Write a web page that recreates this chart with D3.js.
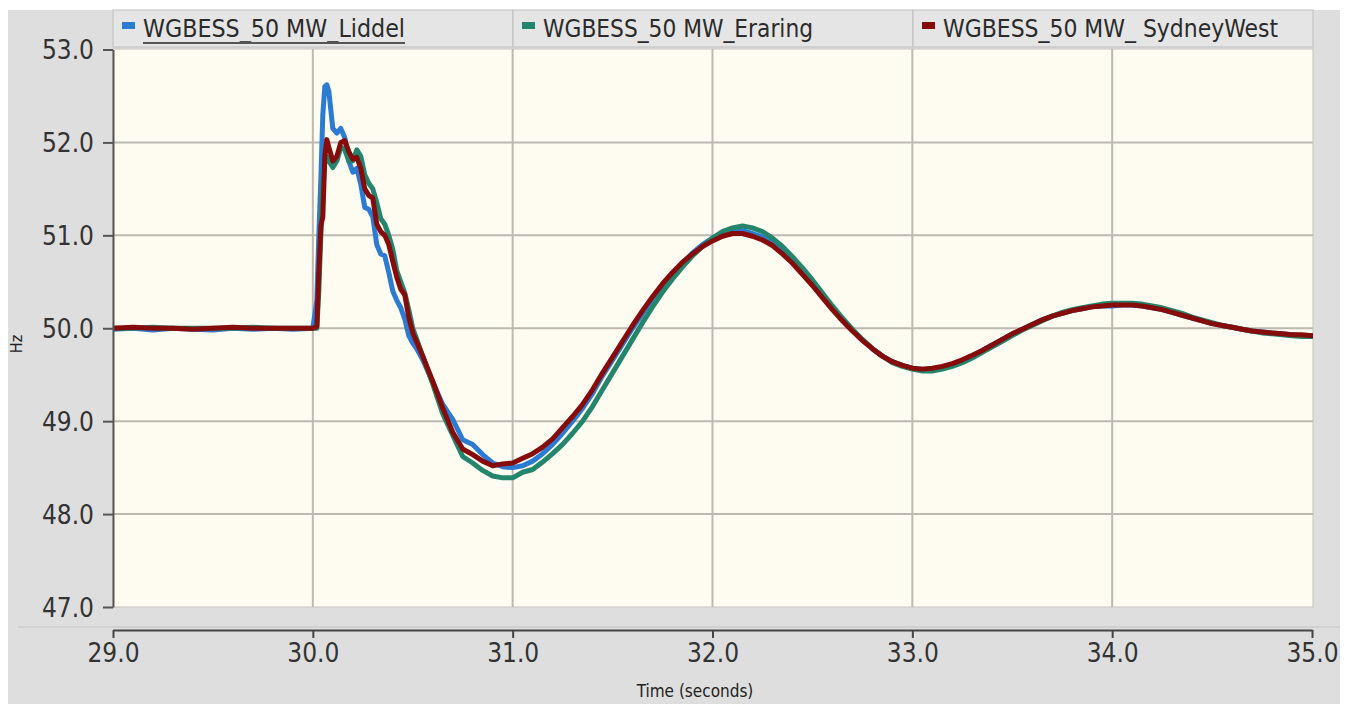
<!DOCTYPE html>
<html>
<head>
<meta charset="utf-8">
<script src="https://cdn.jsdelivr.net/npm/d3@7"></script>
<style>
  html, body { margin: 0; padding: 0; background: #ffffff; }
  svg { display: block; }
</style>
</head>
<body>
<svg id="chart" width="1351" height="704"></svg>
<script>
// Sample times (seconds)
const timePre = [29.0, 29.1, 29.2, 29.3, 29.4, 29.5, 29.6, 29.7, 29.8, 29.9];
const timeSpike = [30.00, 30.02, 30.03, 30.04, 30.05, 30.06, 30.07, 30.08, 30.10, 30.12,
  30.14, 30.16, 30.18, 30.20, 30.22, 30.24, 30.26, 30.28, 30.30, 30.32,
  30.34, 30.36, 30.38, 30.40, 30.42, 30.44, 30.46, 30.48, 30.50, 30.52,
  30.55, 30.60, 30.65, 30.70, 30.75, 30.80, 30.85, 30.90, 30.95];
const timePost = [31.00, 31.05, 31.10, 31.15, 31.20, 31.25, 31.30, 31.35, 31.40, 31.45,
  31.50, 31.55, 31.60, 31.65, 31.70, 31.75, 31.80, 31.85, 31.90, 31.95,
  32.00, 32.05, 32.10, 32.15, 32.20, 32.25, 32.30, 32.35, 32.40, 32.45,
  32.50, 32.55, 32.60, 32.65, 32.70, 32.75, 32.80, 32.85, 32.90, 32.95,
  33.00, 33.05, 33.10, 33.15, 33.20, 33.25, 33.30, 33.35, 33.40, 33.45,
  33.50, 33.55, 33.60, 33.65, 33.70, 33.75, 33.80, 33.85, 33.90, 33.95,
  34.00, 34.05, 34.10, 34.15, 34.20, 34.25, 34.30, 34.35, 34.40, 34.45,
  34.50, 34.55, 34.60, 34.65, 34.70, 34.75, 34.80, 34.85, 34.90, 34.95,
  35.00];
const timeSec = timePre.concat(timeSpike, timePost);

// Frequency (Hz) for each case
const liddelHz = [
  49.99, 50.00, 49.98, 50.00, 49.99, 49.98, 50.00, 49.99, 50.00, 49.99,
  50.00, 50.30, 51.00, 51.60, 52.30, 52.60, 52.62, 52.55, 52.15, 52.10,
  52.15, 52.05, 51.80, 51.68, 51.72, 51.55, 51.30, 51.28, 51.20, 50.90,
  50.80, 50.78, 50.60, 50.40, 50.30, 50.22, 50.10, 49.92, 49.84, 49.78,
  49.66, 49.42, 49.18, 49.02, 48.80, 48.75, 48.64, 48.55, 48.51,
  48.50, 48.52, 48.57, 48.65, 48.75, 48.87, 49.00, 49.14, 49.30, 49.49,
  49.66, 49.83, 50.00, 50.16, 50.32, 50.46, 50.59, 50.70, 50.81, 50.90,
  50.97, 51.02, 51.05, 51.05, 51.02, 50.98, 50.92, 50.83, 50.73, 50.61,
  50.48, 50.35, 50.22, 50.09, 49.98, 49.87, 49.78, 49.70, 49.64, 49.60,
  49.57, 49.56, 49.56, 49.58, 49.61, 49.65, 49.70, 49.76, 49.82, 49.88,
  49.94, 49.99, 50.04, 50.09, 50.13, 50.16, 50.19, 50.21, 50.23, 50.24,
  50.24, 50.25, 50.25, 50.24, 50.22, 50.20, 50.17, 50.14, 50.11, 50.08,
  50.05, 50.03, 50.01, 49.99, 49.97, 49.96, 49.95, 49.94, 49.93, 49.92,
  49.92];

const eraringHz = [
  50.00, 50.00, 50.01, 50.00, 50.00, 50.00, 50.00, 50.01, 50.00, 50.00,
  50.00, 50.00, 50.40, 51.00, 51.50, 51.80, 51.85, 51.80, 51.73, 51.80,
  51.95, 51.92, 51.80, 51.80, 51.92, 51.85, 51.65, 51.56, 51.50, 51.35,
  51.18, 51.12, 51.00, 50.85, 50.62, 50.50, 50.38, 50.20, 50.00, 49.88,
  49.70, 49.40, 49.08, 48.85, 48.62, 48.55, 48.47, 48.41, 48.39,
  48.39, 48.45, 48.48, 48.56, 48.65, 48.75, 48.87, 49.00, 49.16, 49.34,
  49.52, 49.70, 49.88, 50.06, 50.23, 50.39, 50.53, 50.66, 50.78, 50.88,
  50.97, 51.04, 51.08, 51.10, 51.08, 51.04, 50.97, 50.88, 50.77, 50.65,
  50.52, 50.38, 50.24, 50.11, 49.99, 49.88, 49.78, 49.70, 49.63, 49.59,
  49.56, 49.54, 49.54, 49.56, 49.59, 49.63, 49.68, 49.74, 49.80, 49.86,
  49.92, 49.98, 50.03, 50.08, 50.13, 50.17, 50.20, 50.22, 50.24, 50.26,
  50.27, 50.27, 50.27, 50.26, 50.24, 50.22, 50.19, 50.16, 50.12, 50.09,
  50.06, 50.03, 50.01, 49.99, 49.97, 49.95, 49.94, 49.93, 49.92, 49.91,
  49.91];

const sydneyWestHz = [
  50.00, 50.01, 50.00, 50.00, 49.99, 50.00, 50.01, 50.00, 50.00, 50.00,
  50.00, 50.02, 50.60, 51.10, 51.20, 51.85, 52.03, 51.95, 51.80, 51.85,
  52.00, 52.02, 51.90, 51.82, 51.84, 51.72, 51.50, 51.43, 51.40, 51.12,
  51.04, 51.00, 50.90, 50.72, 50.55, 50.42, 50.36, 50.12, 49.95, 49.85,
  49.70, 49.43, 49.14, 48.88, 48.70, 48.64, 48.57, 48.52, 48.54,
  48.55, 48.60, 48.65, 48.72, 48.81, 48.93, 49.05, 49.18, 49.34, 49.52,
  49.69, 49.86, 50.03, 50.19, 50.34, 50.48, 50.60, 50.71, 50.80, 50.88,
  50.94, 50.99, 51.02, 51.02, 50.99, 50.95, 50.89, 50.80, 50.70, 50.58,
  50.46, 50.33, 50.20, 50.08, 49.97, 49.87, 49.78, 49.70, 49.64, 49.60,
  49.57, 49.56, 49.57, 49.59, 49.62, 49.66, 49.71, 49.76, 49.82, 49.88,
  49.94, 49.99, 50.04, 50.09, 50.13, 50.16, 50.19, 50.21, 50.23, 50.24,
  50.25, 50.25, 50.25, 50.24, 50.22, 50.20, 50.17, 50.14, 50.11, 50.08,
  50.05, 50.03, 50.01, 49.99, 49.97, 49.96, 49.95, 49.94, 49.93, 49.93,
  49.92];

const seriesNames = ["WGBESS_50 MW_Liddel", "WGBESS_50 MW_Eraring", "WGBESS_50 MW_ SydneyWest"];
const seriesColors = ["#2b7bd3", "#23866c", "#860b0b"];
const xTickValues = [29, 30, 31, 32, 33, 34, 35];
const yTickValues = [47, 48, 49, 50, 51, 52, 53];
const xAxisTitle = "Time (seconds)";
const yAxisTitle = "Hz";

const seriesValues = [liddelHz, eraringHz, sydneyWestHz];

// Layout
const plot = { left: 113, right: 1313, top: 49, bottom: 607 };
const xAxisY = 630;
const labelFont = "'DejaVu Sans Condensed', 'DejaVu Sans', sans-serif";

const svg = d3.select("#chart");

const x = d3.scaleLinear().domain([29, 35]).range([plot.left, plot.right - 1]);
const y = d3.scaleLinear().domain([47, 53]).range([plot.bottom, plot.top + 0.5]);

// Panel background
svg.append("rect").attr("x", 8).attr("y", 10).attr("width", 1332).attr("height", 694)
  .attr("fill", "#dedede");

// Separator under the plot
svg.append("line").attr("x1", 18).attr("x2", 1340).attr("y1", 627).attr("y2", 627)
  .attr("stroke", "#c2c2c2").attr("stroke-width", 1);

// Plot area
svg.append("rect")
  .attr("x", plot.left).attr("y", plot.top)
  .attr("width", plot.right - plot.left).attr("height", plot.bottom - plot.top)
  .attr("fill", "#fefbf0").attr("stroke", "#c9c6bf").attr("stroke-width", 1);

// Grid lines
const grid = svg.append("g").attr("stroke", "#bdb9b1").attr("stroke-width", 2);
xTickValues.filter(v => v > 29 && v < 35).forEach(v => {
  grid.append("line").attr("x1", x(v)).attr("x2", x(v))
    .attr("y1", plot.top).attr("y2", plot.bottom);
});
yTickValues.filter(v => v > 47 && v < 53).forEach(v => {
  grid.append("line").attr("x1", plot.left).attr("x2", plot.right)
    .attr("y1", y(v)).attr("y2", y(v));
});

// Series lines
svg.append("clipPath").attr("id", "plotClip").append("rect")
  .attr("x", plot.left).attr("y", plot.top)
  .attr("width", plot.right - plot.left).attr("height", plot.bottom - plot.top);

const lineGen = d3.line().x(d => x(d[0])).y(d => y(d[1])).curve(d3.curveLinear);
const lines = svg.append("g").attr("clip-path", "url(#plotClip)");
seriesValues.forEach((vals, i) => {
  const pts = timeSec.map((t, k) => [t, vals[k]]);
  lines.append("path")
    .attr("d", lineGen(pts))
    .attr("fill", "none")
    .attr("stroke", seriesColors[i])
    .attr("stroke-width", 5)
    .attr("stroke-linejoin", "round")
    .attr("stroke-linecap", "round");
});

// Y axis
const yAxis = d3.axisLeft(y).tickValues(yTickValues).tickFormat(d3.format(".1f"))
  .tickSizeInner(10).tickSizeOuter(0).tickPadding(9);
const gy = svg.append("g").attr("transform", `translate(${plot.left},0)`).call(yAxis);
gy.select(".domain").attr("stroke", "#555").attr("stroke-width", 2);
gy.selectAll(".tick line").attr("stroke", "#555").attr("stroke-width", 2);
gy.selectAll(".tick text").attr("fill", "#333").style("font-family", labelFont)
  .style("font-size", "26px").attr("dy", "0.36em");

// X axis
const xAxis = d3.axisBottom(x).tickValues(xTickValues).tickFormat(d3.format(".1f"))
  .tickSizeInner(8).tickSizeOuter(0).tickPadding(6);
const gx = svg.append("g").attr("transform", `translate(0,${xAxisY})`).call(xAxis);
gx.select(".domain").attr("stroke", "#444").attr("stroke-width", 2);
gx.selectAll(".tick line").attr("stroke", "#444").attr("stroke-width", 2);
gx.selectAll(".tick text").attr("fill", "#333").style("font-family", labelFont)
  .style("font-size", "26px");

// Axis titles
svg.append("text").attr("x", 695).attr("y", 697).attr("text-anchor", "middle")
  .attr("fill", "#222").style("font-family", labelFont).style("font-size", "17px")
  .text(xAxisTitle);
svg.append("text").attr("transform", "translate(22,344) rotate(-90)")
  .attr("text-anchor", "middle").attr("fill", "#222")
  .style("font-family", labelFont).style("font-size", "16px")
  .text(yAxisTitle);

// Legend bar
const legendTop = 10, legendBottom = 47;
const colW = (plot.right - plot.left) / 3;
const legendTextWidths = [262, 270, 335];
const legend = svg.append("g");
seriesNames.forEach((name, i) => {
  const x0 = plot.left + i * colW;
  legend.append("rect").attr("x", x0).attr("y", legendTop)
    .attr("width", colW).attr("height", legendBottom - legendTop)
    .attr("fill", "#e5e5e5").attr("stroke", "#bdbdbd").attr("stroke-width", 1);
  legend.append("rect").attr("x", x0 + 9).attr("y", 22)
    .attr("width", 13).attr("height", 7).attr("fill", seriesColors[i]);
  legend.append("text").attr("x", x0 + 30).attr("y", 37)
    .attr("fill", "#2b2b2b").style("font-family", labelFont).style("font-size", "24px")
    .attr("textLength", legendTextWidths[i]).attr("lengthAdjust", "spacingAndGlyphs")
    .text(name);
  if (i === 0) {
    legend.append("line").attr("x1", x0 + 30).attr("x2", x0 + 30 + legendTextWidths[i])
      .attr("y1", 43).attr("y2", 43).attr("stroke", "#555").attr("stroke-width", 2);
  }
});
</script>
</body>
</html>
